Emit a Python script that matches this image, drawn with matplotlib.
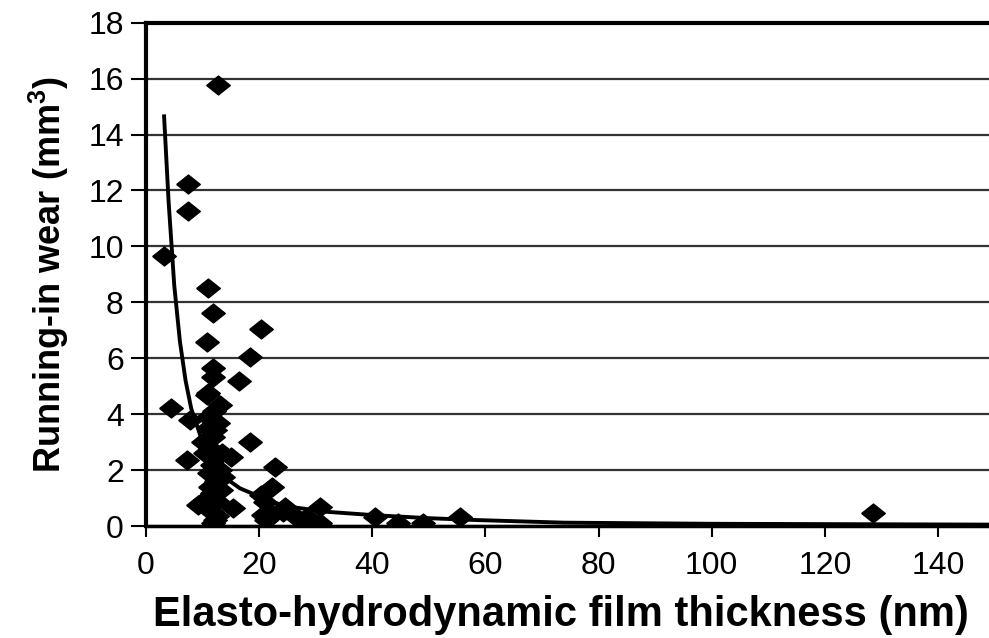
import numpy as np
import matplotlib
matplotlib.use("Agg")
import matplotlib.pyplot as plt

plt.rcParams['font.family'] = ['Liberation Sans', 'DejaVu Sans']
plt.rcParams['mathtext.fontset'] = 'custom'
plt.rcParams['mathtext.rm'] = 'Liberation Sans'
plt.rcParams['mathtext.bf'] = 'Liberation Sans:bold'

# film thickness (nm) vs running-in wear (mm^3)
film_nm = [3.2, 4.4, 7.2, 7.5, 7.5, 7.8, 9.2, 9.8, 10.1, 10.5,
           10.7, 10.8, 10.9, 11.0, 11.0, 11.0, 11.2, 11.3, 11.4, 11.6,
           11.6, 11.6, 11.9, 11.9, 11.9, 11.9, 11.9, 12.0, 12.2, 12.2,
           12.3, 12.4, 12.5, 12.6, 12.7, 12.8, 13.1, 13.0, 13.2, 13.7,
           13.5, 15.1, 15.4, 16.5, 18.4, 18.4, 20.3, 20.4, 20.7, 21.0,
           21.3, 22.2, 22.2, 22.8, 24.3, 24.6, 26.6, 28.4, 28.4, 30.7,
           30.7, 40.5, 44.6, 49.0, 55.5, 128.6]
wear_mm3 = [9.67, 4.21, 2.36, 12.24, 11.27, 3.79, 0.75, 0.81, 3.02, 2.6,
            4.69, 6.57, 8.5, 4.75, 3.91, 3.5, 1.9, 1.4, 2.8, 2.18,
            1.17, 0.5, 7.63, 5.64, 5.34, 0.1, 3.2, 4.1, 3.44, 0.21,
            2.5, 1.6, 0.9, 0.35, 15.78, 3.7, 4.33, 2.0, 1.3, 1.76,
            2.6, 2.48, 0.63, 5.19, 6.04, 3.02, 7.04, 1.11, 0.39, 0.87,
            0.21, 1.41, 0.4, 2.12, 0.51, 0.69, 0.33, 0.33, 0.2, 0.69,
            0.1, 0.33, 0.1, 0.1, 0.31, 0.45]

# power-law trend line
trend_x = [3.2, 4.0, 5.0, 6.0, 7.0, 8.0, 10.0, 12.0, 14.5, 16.6,
           20.1, 24.3, 31.9, 40.2, 50.0, 59.0, 74.0, 100.0, 150.0]
trend_y = [14.65, 11.6, 8.6, 6.6, 5.2, 4.2, 3.0, 2.3, 1.65, 1.35,
           1.05, 0.72, 0.51, 0.39, 0.28, 0.21, 0.12, 0.08, 0.05]

fig = plt.figure(figsize=(9.89, 6.38), dpi=100)
ax = fig.add_axes([0.1476, 0.1755, 0.858, 0.789])

ax.set_xlim(0, 150)
ax.set_ylim(0, 18)
ax.set_xticks(np.arange(0, 141, 20))
ax.set_yticks(np.arange(0, 19, 2))

ax.grid(axis='y', color='#333333', linewidth=1.6)
ax.set_axisbelow(True)

diamond = [(-1, 0), (0, 0.8), (1, 0), (0, -0.8), (-1, 0)]
ax.plot(film_nm, wear_mm3, linestyle='none', marker=diamond,
        markersize=17, color='black', zorder=3)
ax.plot(trend_x, trend_y, color='black', linewidth=2.8, zorder=4)

ax.spines['right'].set_visible(False)
ax.spines['left'].set_linewidth(3)
ax.spines['top'].set_linewidth(3)
ax.spines['bottom'].set_linewidth(2.5)

ax.tick_params(axis='y', direction='out', length=11, width=1.5,
               labelsize=23, pad=5)
ax.tick_params(axis='x', direction='out', length=8, width=1.5,
               labelsize=23, pad=10)

ax.set_ylabel('Running-in wear (mm$^\\mathbf{3}$)', fontsize=26,
              fontweight='bold')
ax.set_xlabel('Elasto-hydrodynamic film thickness (nm)', fontsize=30,
              fontweight='bold')
ax.yaxis.set_label_coords(-0.088, 0.5)
ax.xaxis.set_label_coords(0.489, -0.138)

fig.savefig('out.png', dpi=100)
